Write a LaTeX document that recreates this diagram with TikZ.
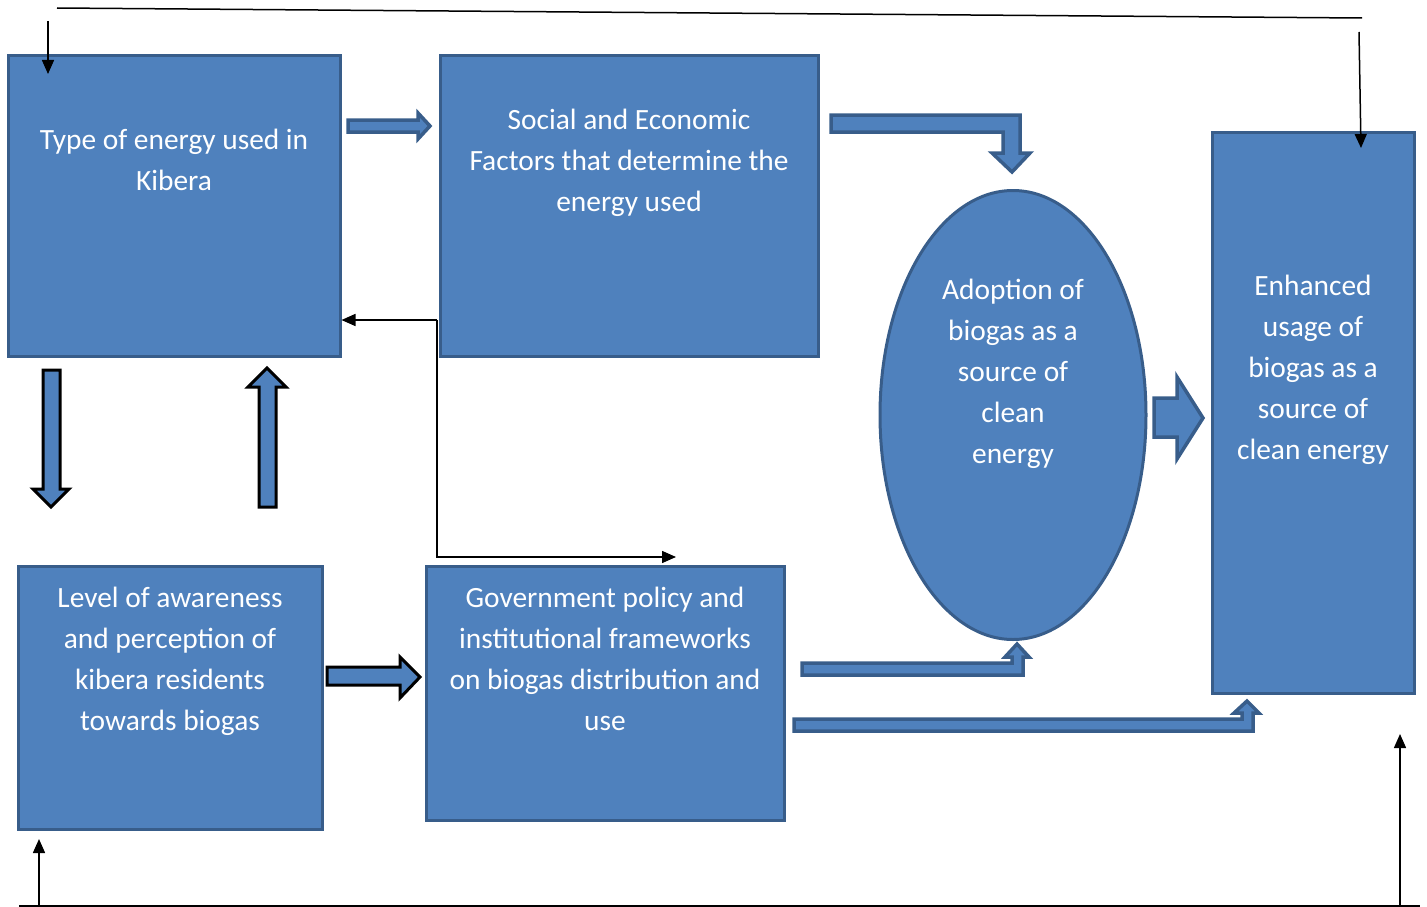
\documentclass[tikz,border=0pt]{standalone}
\usepackage{fontspec}
\setmainfont{Carlito}
\usetikzlibrary{shapes.geometric,arrows.meta}
\definecolor{fillblue}{HTML}{4F81BD}
\definecolor{edgeblue}{HTML}{385D8A}
\tikzset{
  box/.style={draw=edgeblue, fill=fillblue, line width=3pt, rectangle, inner sep=0pt},
  ell/.style={draw=edgeblue, fill=fillblue, line width=3pt, ellipse, inner sep=0pt},
  txt/.style={text=white, align=center, inner sep=0pt, anchor=north, font=\fontsize{29.4}{41}\selectfont},
  barrow/.style={draw=edgeblue, fill=fillblue, line width=3.5pt, line join=miter},
  karrow/.style={draw=black, fill=fillblue, line width=3pt, line join=miter},
  conn/.style={draw=black, line width=1.5pt, -{Triangle[length=14pt,width=12pt]}},
  plain/.style={draw=black, line width=1.5pt},
}
\begin{document}
\begin{tikzpicture}[x=1pt,y=-1pt]
\useasboundingbox (0,0) rectangle (1427,907);
% boxes
\node[box, minimum width=332pt, minimum height=300pt] (A) at (174,206) {};
\node[box, minimum width=378pt, minimum height=300pt] (B) at (629,206) {};
\node[ell, minimum width=266pt, minimum height=449pt] (O) at (1013,415) {};
\node[box, minimum width=202pt, minimum height=561pt] (E) at (1313,412.5) {};
\node[box, minimum width=304pt, minimum height=263pt] (C) at (170,697.5) {};
\node[box, minimum width=358pt, minimum height=254pt] (D) at (605,693) {};
% texts
\node[txt] (At) at (174,128.5) {Type of energy used in\\Kibera};
\node[txt] (Bt) at (629,108.5) {Social and Economic\\Factors that determine the\\energy used};
\node[txt] (Ot) at (1013,278.5) {Adoption of\\biogas as a\\source of\\clean\\energy};
\node[txt] (Et) at (1313,274.5) {Enhanced\\usage of\\biogas as a\\source of\\clean energy};
\node[txt] (Ct) at (170,586.5) {Level of awareness\\and perception of\\kibera residents\\towards biogas};
\node[txt] (Dt) at (605,586.5) {Government policy and\\institutional frameworks\\on biogas distribution and\\use};
% block arrows
\draw[barrow] (348,120)--(418,120)--(418,113)--(430,126)--(418,139)--(418,132)--(348,132)--cycle;
\draw[barrow] (831,115)--(1020,115)--(1020,153)--(1030,153)--(1012,172)--(992,153)--(1003,153)--(1003,132)--(831,132)--cycle;
\draw[karrow] (43,370)--(60,370)--(60,489)--(69,489)--(51,507)--(33,489)--(43,489)--cycle;
\draw[karrow] (259,507)--(276,507)--(276,387)--(286,387)--(267,368)--(248,387)--(259,387)--cycle;
\draw[karrow] (327,667)--(400,667)--(400,657)--(420,677)--(400,698)--(400,685)--(327,685)--cycle;
\draw[barrow] (802,663)--(1012,663)--(1012,657)--(1005,657)--(1017,644)--(1029,657)--(1023,657)--(1023,675)--(802,675)--cycle;
\draw[barrow] (794,719)--(1242,719)--(1242,713)--(1234,713)--(1247,701)--(1259,713)--(1253,713)--(1253,731)--(794,731)--cycle;
\draw[barrow] (1154,398)--(1177,398)--(1177,377)--(1203,418)--(1177,459)--(1177,437)--(1154,437)--cycle;
% thin connectors
\coordinate (j) at (437,320);
\coordinate (dEnd) at (676,557);
\draw[conn] (j) -- (A.east |- j);
\draw[conn] (j) |- (dEnd);
\coordinate (t1) at (57,8);
\coordinate (t2) at (1362,18);
\draw[plain] (t1) -- (t2);
\coordinate (a1s) at (48,21);
\coordinate (a1e) at (48,74);
\draw[conn] (a1s) -- (a1e);
\coordinate (a2s) at (1359,32);
\coordinate (a2e) at (1361,148);
\draw[conn] (a2s) -- (a2e);
\coordinate (b1) at (19,906);
\coordinate (b2) at (1420,906);
\draw[plain] (b1) -- (b2);
\coordinate (u1s) at (39,906);
\coordinate (u1e) at (39,839);
\draw[conn] (u1s) -- (u1e);
\coordinate (u2s) at (1400,906);
\coordinate (u2e) at (1400,734);
\draw[conn] (u2s) -- (u2e);
\end{tikzpicture}
\end{document}
